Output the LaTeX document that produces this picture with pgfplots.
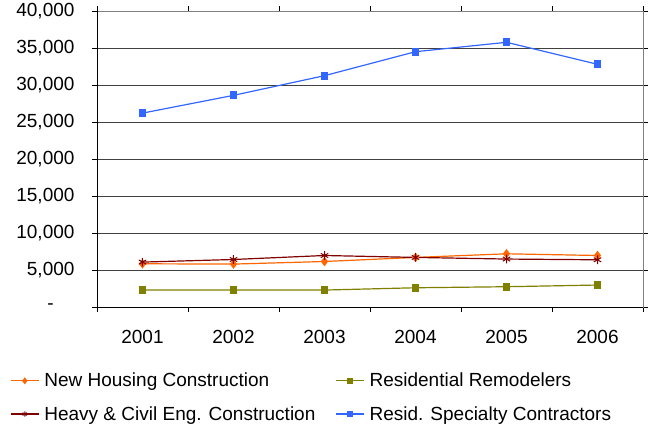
\documentclass[border=0pt]{standalone}
\usepackage{fontspec}
\setmainfont{Liberation Sans}
\usepackage{pgfplots}
\pgfplotsset{compat=1.18}
\definecolor{cblue}{RGB}{51,102,255}
\definecolor{corange}{RGB}{255,102,0}
\definecolor{colive}{RGB}{128,128,0}
\definecolor{cred}{RGB}{128,0,0}
\newcommand{\chartfont}{\fontsize{19bp}{23bp}\selectfont}
\newcommand{\zerolabel}{\makebox[27bp][l]{-}}
\begin{document}
\begin{tikzpicture}
\begin{axis}[
  width=546bp, height=296bp, scale only axis,
  xmin=-0.5, xmax=5.5, ymin=0, ymax=40000,
  scaled y ticks=false,
  xtick={0,1,2,3,4,5},
  xticklabels={2001,2002,2003,2004,2005,2006},
  minor xtick={-0.5,0.5,1.5,2.5,3.5,4.5,5.5},
  major x tick style={draw=none},
  ytick={0,5000,10000,15000,20000,25000,30000,35000,40000},
  yticklabels={\zerolabel,{5,000},{10,000},{15,000},{20,000},{25,000},{30,000},{35,000},{40,000}},
  tick align=outside, major tick length=5bp, minor tick length=5bp,
  tick style={black, line width=0.8bp},
  ymajorgrids, grid style={black!75, line width=0.8bp},
  axis line style={gray, line width=0.8bp},
  ticklabel style={font=\chartfont},
  yticklabel style={xshift=-14bp},
  xticklabel style={yshift=-15bp},
  legend columns=2,
  legend style={draw=none, fill=none, font=\chartfont,
    at={(rel axis cs:0,0)}, anchor=north west, xshift=-90bp, yshift=-62bp,
    row sep=14bp, cells={anchor=west},
    /tikz/every odd column/.append style={column sep=3bp},
    /tikz/every even column/.append style={column sep=18bp}},
  legend image code/.code={\draw[mark repeat=2,mark phase=2,mark size=2.6bp] plot coordinates {(0bp,0bp) (14bp,0bp) (28bp,0bp)};},
  every axis plot/.append style={line width=1.2bp},
]
\coordinate (bl) at (rel axis cs:0,0);
\draw[black, line width=0.8bp] (rel axis cs:0,0) -- (rel axis cs:0,1);
\draw[black, line width=0.8bp] (rel axis cs:0,0) -- (rel axis cs:1,0);

\addplot[color=corange, mark=diamond*, mark size=3.8bp, mark options={fill=corange}]
  coordinates {(0,5840) (1,5800) (2,6150) (3,6700) (4,7190) (5,6960)};
\addlegendentry{New Housing Construction}

\addplot[color=colive, mark=square*, mark size=3.3bp, mark options={fill=colive}]
  coordinates {(0,2290) (1,2290) (2,2290) (3,2600) (4,2740) (5,2970)};
\addlegendentry{Residential Remodelers}

\addplot[color=cred, mark=asterisk, mark size=4.3bp, mark options={line width=1bp}]
  coordinates {(0,6070) (1,6420) (2,6960) (3,6700) (4,6480) (5,6380)};
\addlegendentry{Heavy \& Civil Eng. Construction}

\addplot[color=cblue, mark=square*, mark size=3.3bp, mark options={fill=cblue}]
  coordinates {(0,26200) (1,28600) (2,31260) (3,34500) (4,35770) (5,32800)};
\addlegendentry{Resid. Specialty Contractors}
\end{axis}
\pgfresetboundingbox
\path[use as bounding box] (bl) ++(-97bp,-120bp) rectangle ++(652bp,427bp);
\end{tikzpicture}
\end{document}
